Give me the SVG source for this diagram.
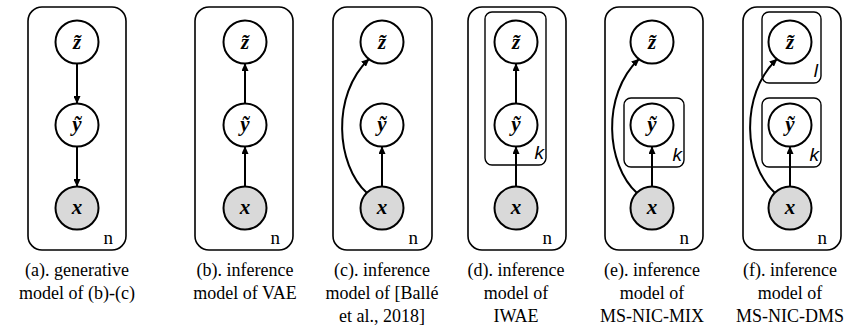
<svg xmlns="http://www.w3.org/2000/svg" width="850" height="333" viewBox="0 0 850 333" font-family="Times New Roman, Liberation Serif, serif">
<defs>
<marker id="ah" markerUnits="userSpaceOnUse" markerWidth="8" markerHeight="7" refX="7.5" refY="3.5" orient="auto">
<path d="M0,0 L8,3.5 L0,7 z" fill="#000"/>
</marker>
<style>
.plate{fill:none;stroke:#000;stroke-width:1.6}
.inner{fill:none;stroke:#000;stroke-width:1.4}
.node{fill:#fff;stroke:#000;stroke-width:2}
.obs{fill:#d9d9d9;stroke:#000;stroke-width:2}
.e{fill:none;stroke:#000;stroke-width:2;marker-end:url(#ah)}
</style>
</defs>
<rect width="850" height="333" fill="#fff"/>

<g id="panel-a">
<rect class="plate" x="28" y="7" width="98" height="243" rx="14"/>
<text x="113" y="244" font-size="19" text-anchor="end">n</text>
</g>
<g id="a-z"><circle class="node" cx="77" cy="42" r="21.5"/><text x="77" y="49" font-size="21" font-weight="bold" font-style="italic" text-anchor="middle">z̃</text></g>
<g id="a-y"><circle class="node" cx="77" cy="125" r="21.5"/><text x="77" y="131" font-size="21" font-weight="bold" font-style="italic" text-anchor="middle">ỹ</text></g>
<g id="a-x"><circle class="obs" cx="77" cy="208" r="21.5"/><text x="77" y="214" font-size="21" font-weight="bold" font-style="italic" text-anchor="middle">x</text></g>

<g id="panel-b">
<rect class="plate" x="195" y="7" width="98" height="243" rx="14"/>
<text x="280" y="244" font-size="19" text-anchor="end">n</text>
</g>
<g id="b-z"><circle class="node" cx="245" cy="42" r="21.5"/><text x="245" y="49" font-size="21" font-weight="bold" font-style="italic" text-anchor="middle">z̃</text></g>
<g id="b-y"><circle class="node" cx="245" cy="125" r="21.5"/><text x="245" y="131" font-size="21" font-weight="bold" font-style="italic" text-anchor="middle">ỹ</text></g>
<g id="b-x"><circle class="obs" cx="245" cy="208" r="21.5"/><text x="245" y="214" font-size="21" font-weight="bold" font-style="italic" text-anchor="middle">x</text></g>

<g id="panel-c">
<rect class="plate" x="333" y="7" width="99" height="243" rx="14"/>
<text x="418" y="244" font-size="19" text-anchor="end">n</text>
</g>
<g id="c-z"><circle class="node" cx="382" cy="42" r="21.5"/><text x="382" y="49" font-size="21" font-weight="bold" font-style="italic" text-anchor="middle">z̃</text></g>
<g id="c-y"><circle class="node" cx="382" cy="125" r="21.5"/><text x="382" y="131" font-size="21" font-weight="bold" font-style="italic" text-anchor="middle">ỹ</text></g>
<g id="c-x"><circle class="obs" cx="382" cy="208" r="21.5"/><text x="382" y="214" font-size="21" font-weight="bold" font-style="italic" text-anchor="middle">x</text></g>

<g id="panel-d">
<rect class="plate" x="468" y="7" width="98" height="243" rx="14"/>
<text x="552" y="244" font-size="19" text-anchor="end">n</text>
<rect class="inner" x="485" y="12" width="61" height="153" rx="7"/>
<text x="544" y="159" font-size="19" font-style="italic" text-anchor="end" font-family="Liberation Sans, Arial, sans-serif">k</text>
</g>
<g id="d-z"><circle class="node" cx="516" cy="42" r="21.5"/><text x="516" y="49" font-size="21" font-weight="bold" font-style="italic" text-anchor="middle">z̃</text></g>
<g id="d-y"><circle class="node" cx="516" cy="125" r="21.5"/><text x="516" y="131" font-size="21" font-weight="bold" font-style="italic" text-anchor="middle">ỹ</text></g>
<g id="d-x"><circle class="obs" cx="516" cy="208" r="21.5"/><text x="516" y="214" font-size="21" font-weight="bold" font-style="italic" text-anchor="middle">x</text></g>

<g id="panel-e">
<rect class="plate" x="605" y="7" width="98" height="243" rx="14"/>
<text x="689" y="244" font-size="19" text-anchor="end">n</text>
<rect class="inner" x="624" y="98" width="60" height="69" rx="7"/>
<text x="682" y="161" font-size="19" font-style="italic" text-anchor="end" font-family="Liberation Sans, Arial, sans-serif">k</text>
</g>
<g id="e-z"><circle class="node" cx="652" cy="42" r="21.5"/><text x="652" y="49" font-size="21" font-weight="bold" font-style="italic" text-anchor="middle">z̃</text></g>
<g id="e-y"><circle class="node" cx="652" cy="125" r="21.5"/><text x="652" y="131" font-size="21" font-weight="bold" font-style="italic" text-anchor="middle">ỹ</text></g>
<g id="e-x"><circle class="obs" cx="652" cy="208" r="21.5"/><text x="652" y="214" font-size="21" font-weight="bold" font-style="italic" text-anchor="middle">x</text></g>

<g id="panel-f">
<rect class="plate" x="743" y="7" width="98" height="243" rx="14"/>
<text x="827" y="244" font-size="19" text-anchor="end">n</text>
<rect class="inner" x="762" y="12" width="59" height="71" rx="7"/>
<text x="818" y="77" font-size="19" font-style="italic" text-anchor="end" font-family="Liberation Sans, Arial, sans-serif">l</text>
<rect class="inner" x="762" y="98" width="59" height="69" rx="7"/>
<text x="819" y="161" font-size="19" font-style="italic" text-anchor="end" font-family="Liberation Sans, Arial, sans-serif">k</text>
</g>
<g id="f-z"><circle class="node" cx="790" cy="42" r="21.5"/><text x="790" y="49" font-size="21" font-weight="bold" font-style="italic" text-anchor="middle">z̃</text></g>
<g id="f-y"><circle class="node" cx="790" cy="125" r="21.5"/><text x="790" y="131" font-size="21" font-weight="bold" font-style="italic" text-anchor="middle">ỹ</text></g>
<g id="f-x"><circle class="obs" cx="790" cy="208" r="21.5"/><text x="790" y="214" font-size="21" font-weight="bold" font-style="italic" text-anchor="middle">x</text></g>

<g id="connectors">
<line class="e" x1="77" y1="63.5" x2="77" y2="103.5"/>
<line class="e" x1="77" y1="146.5" x2="77" y2="186.5"/>
<line class="e" x1="245" y1="186.5" x2="245" y2="146.5"/>
<line class="e" x1="245" y1="103.5" x2="245" y2="63.5"/>
<line class="e" x1="382" y1="186.5" x2="382" y2="146.5"/>
<path class="e" d="M367,193 C336,165 331,95 369,59"/>
<line class="e" x1="516" y1="186.5" x2="516" y2="146.5"/>
<line class="e" x1="516" y1="103.5" x2="516" y2="63.5"/>
<line class="e" x1="652" y1="186.5" x2="652" y2="146.5"/>
<path class="e" d="M637,193 C606,165 601,95 639,59"/>
<line class="e" x1="790" y1="186.5" x2="790" y2="146.5"/>
<path class="e" d="M775,193 C744,165 739,95 777,59"/>
</g>

<g id="captions" font-size="18" text-anchor="middle">
<text x="77" y="276">(a). generative</text>
<text x="77" y="299">model of (b)-(c)</text>
<text x="245" y="276">(b). inference</text>
<text x="245" y="299">model of VAE</text>
<text x="382" y="276">(c). inference</text>
<text x="382" y="299">model of [Ballé</text>
<text x="382" y="322">et al., 2018]</text>
<text x="516" y="276">(d). inference</text>
<text x="516" y="299">model of</text>
<text x="516" y="322">IWAE</text>
<text x="652" y="276">(e). inference</text>
<text x="652" y="299">model of</text>
<text x="652" y="322">MS-NIC-MIX</text>
<text x="790" y="276">(f). inference</text>
<text x="790" y="299">model of</text>
<text x="790" y="322">MS-NIC-DMS</text>
</g>
</svg>
